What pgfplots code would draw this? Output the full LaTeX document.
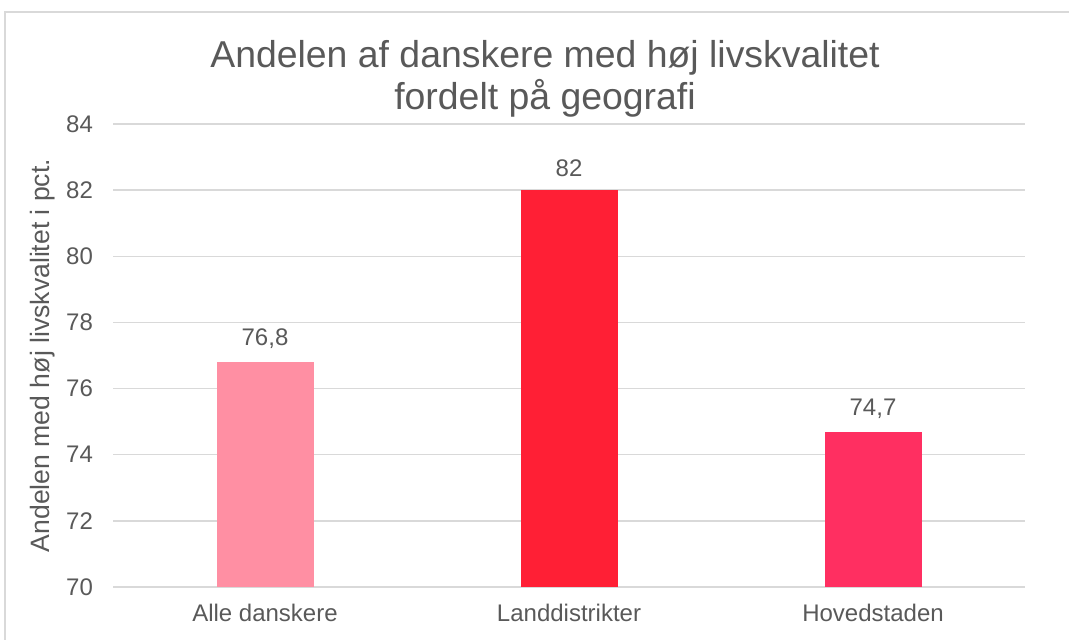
\documentclass[border=0pt]{standalone}
\usepackage{pgfplots}
\pgfplotsset{compat=1.18}
\usepackage{fontspec}
\setmainfont{Liberation Sans}
\definecolor{txt}{HTML}{595959}
\definecolor{grd}{HTML}{D9D9D9}
\definecolor{c1}{HTML}{FF8FA3}
\definecolor{c2}{HTML}{FF1F35}
\definecolor{c3}{HTML}{FF2F61}
\begin{document}
\begin{tikzpicture}
\useasboundingbox (0,0) rectangle (534.5pt,320pt);
\draw[grd, line width=0.75pt] (2.5pt,-10pt) -- (2.5pt,314pt) -- (545pt,314pt);
\node[txt, font=\fontsize{18.7}{21}\selectfont, align=center] at (272.5pt,280.5pt) {Andelen af danskere med høj livskvalitet\\fordelt på geografi};
\begin{axis}[
  at={(56.5pt,26.5pt)}, anchor=south west,
  scale only axis, width=456pt, height=231.5pt,
  xmin=-0.5, xmax=2.5, ymin=70, ymax=84,
  ytick={70,72,...,84}, xtick={0,1,2},
  xticklabels={Alle danskere,Landdistrikter,Hovedstaden},
  axis line style={draw=none},
  ymajorgrids, grid style={grd, line width=0.75pt},
  major tick length=0pt,
  tick label style={txt, font=\fontsize{12}{14}\selectfont},
  /pgf/number format/assume math mode=true,
  yticklabel style={xshift=-6.5pt},
  xticklabel style={yshift=-5pt},
  ylabel={Andelen med høj livskvalitet i pct.},
  ylabel style={txt, font=\fontsize{13.3}{15}\selectfont, at={(axis description cs:-0.0768,0.5)}, anchor=center},
  ybar, bar width=48.5pt,
  nodes near coords,
  nodes near coords style={txt, font=\fontsize{12}{14}\selectfont, /pgf/number format/use comma, /pgf/number format/assume math mode=true, yshift=3pt},
]
\addplot[fill=c1, draw=none, bar shift=0pt] coordinates {(0,76.8)};
\addplot[fill=c2, draw=none, bar shift=0pt] coordinates {(1,82)};
\addplot[fill=c3, draw=none, bar shift=0pt] coordinates {(2,74.7)};
\end{axis}
\end{tikzpicture}
\end{document}
